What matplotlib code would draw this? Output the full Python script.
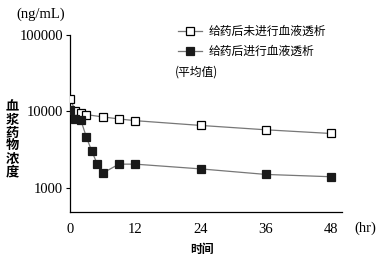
import matplotlib
matplotlib.use("Agg")
import matplotlib.pyplot as plt

plt.rcParams['font.family'] = ['Liberation Serif', 'Noto Sans CJK SC']

time_open = [0, 1, 2, 3, 6, 9, 12, 24, 36, 48]
conc_open = [14600, 10000, 9400, 9000, 8400, 7900, 7500, 6500, 5700, 5100]
time_filled = [0, 1, 2, 3, 4, 5, 6, 9, 12, 24, 36, 48]
conc_filled = [10200, 8000, 7600, 4600, 3000, 2050, 1550, 2030, 2030, 1760, 1490, 1390]
label_open = "给药后未进行血液透析"
label_filled = "给药后进行血液透析"
x_ticks = [0, 12, 24, 36, 48]
y_ticks = [1000, 10000, 100000]
y_tick_labels = ["1000", "10000", "100000"]

fig = plt.figure(figsize=(3.89, 2.58), dpi=100)
ax = fig.add_axes([70/389, 1-211.7/258, (342-70)/389, (211.7-34.5)/258])

cjk = ['Noto Sans CJK SC', 'DejaVu Sans']
ax.plot(time_open, conc_open, color='#777777', lw=0.9, marker='s', ms=5.5,
        mfc='white', mec='black', mew=0.9, label=label_open, zorder=3)
ax.plot(time_filled, conc_filled, color='#777777', lw=0.9, marker='s', ms=5.8,
        mfc='#1a1a1a', mec='#1a1a1a', mew=0.9, label=label_filled, zorder=3)

ax.set_yscale('log')
ax.set_ylim(486, 100000)
ax.set_xlim(0, 50)
ax.set_xticks(x_ticks)
ax.set_xticklabels([str(t) for t in x_ticks])
ax.set_yticks(y_ticks)
ax.set_yticklabels(y_tick_labels)
ax.minorticks_off()
ax.tick_params(axis='y', direction='out', length=3, width=0.8, labelsize=10.5, pad=2)
ax.tick_params(axis='x', direction='out', length=0, labelsize=10.5, pad=8)
for s in ['top', 'right']:
    ax.spines[s].set_visible(False)
for s in ['left', 'bottom']:
    ax.spines[s].set_linewidth(0.9)
ax.patch.set_alpha(0)

leg = ax.legend(loc='upper left', bbox_to_anchor=(172/389, 1-19/258),
                bbox_transform=fig.transFigure, frameon=False,
                prop={'family': cjk, 'size': 8.5, 'weight': 'medium'}, handlelength=2.0,
                handletextpad=0.6, labelspacing=0.6, borderpad=0)

fig.text(175/389, 1-72/258, "(平均值)", family=cjk, fontsize=8.5, weight='medium',
         va='center', ha='left')
fig.text(16/389, 1-14/258, "(ng/mL)", fontsize=10.5, va='center', ha='left')
fig.text(365/389, 1-228/258, "(hr)", fontsize=10.5, va='center', ha='center')
fig.text(202/389, 1-249/258, "时间", family=cjk, fontsize=8.5, weight='bold',
         va='center', ha='center')
fig.text(12/389, 1-139/258, "\n".join("血浆药物浓度"), family=cjk, fontsize=9.5,
         weight='bold', va='center', ha='center', linespacing=0.9)

fig.savefig("out.png", dpi=100)
